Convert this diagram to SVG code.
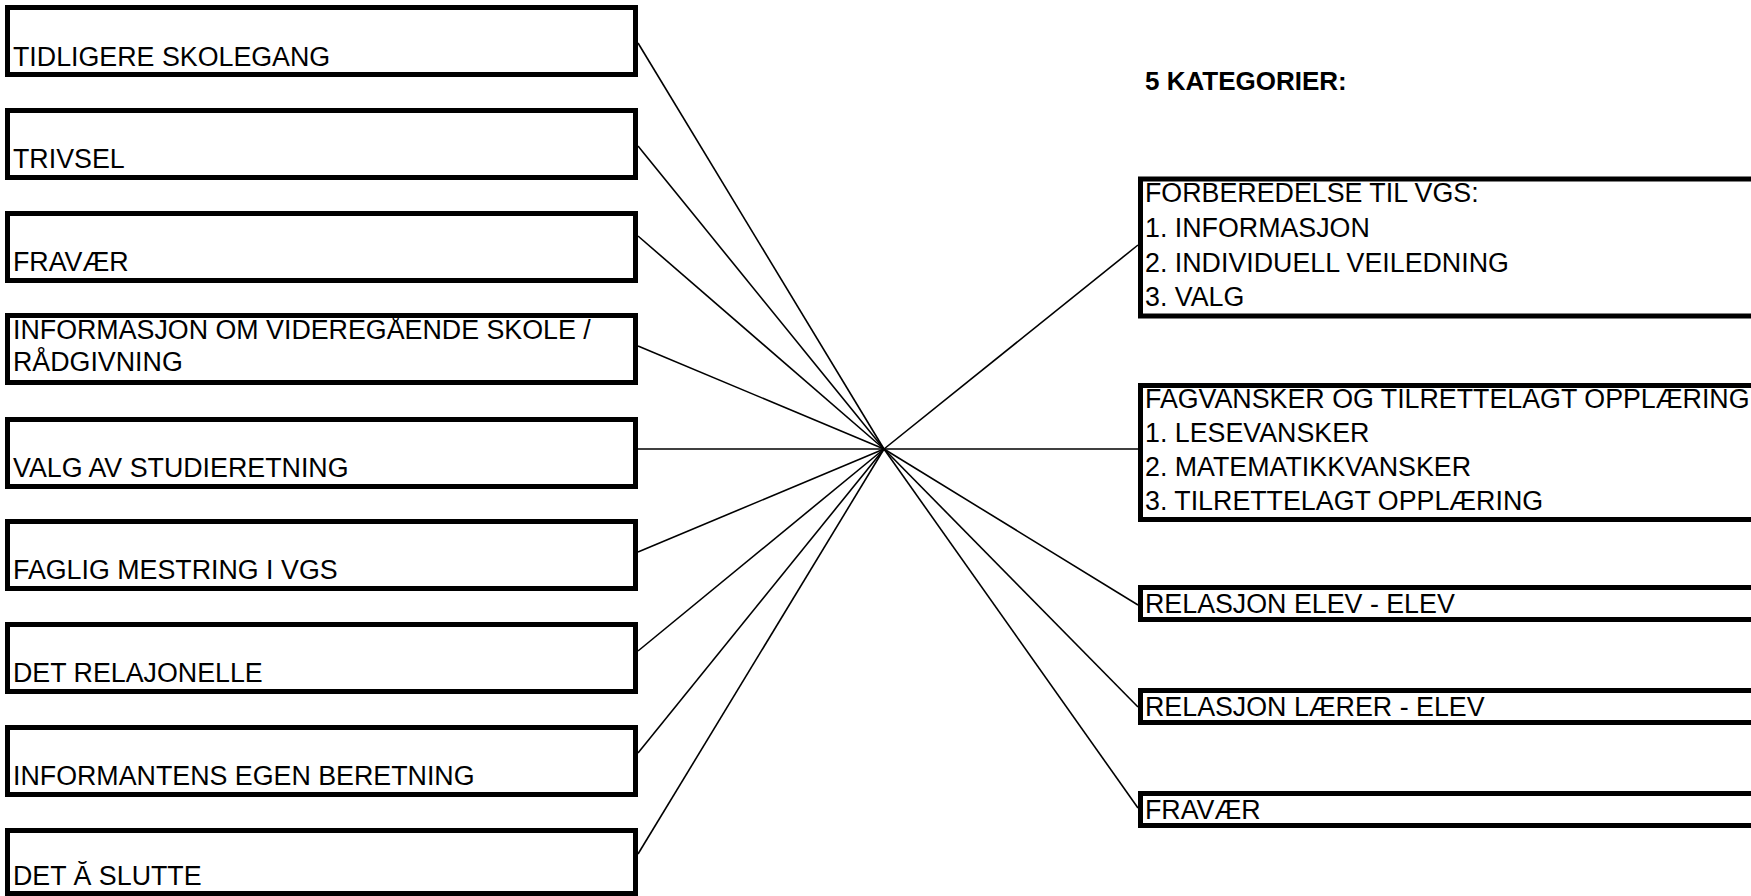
<svg xmlns="http://www.w3.org/2000/svg" width="1751" height="896" viewBox="0 0 1751 896">
<style>
.box{fill:#fff;stroke:#000;stroke-width:5}
.t{font-family:"Liberation Sans",Arial,sans-serif;font-size:26.8px;fill:#000}
.b{font-weight:bold;font-size:26px}
.c line{stroke:#000;stroke-width:1.6}
</style>
<rect x="0" y="0" width="1751" height="896" fill="#fff"/>
<g class="c" id="connectors">
<line x1="638" y1="43" x2="884" y2="449"/>
<line x1="638" y1="146" x2="884" y2="449"/>
<line x1="638" y1="236" x2="884" y2="449"/>
<line x1="638" y1="346" x2="884" y2="449"/>
<line x1="638" y1="449" x2="884" y2="449"/>
<line x1="638" y1="552" x2="884" y2="449"/>
<line x1="638" y1="651" x2="884" y2="449"/>
<line x1="638" y1="753" x2="884" y2="449"/>
<line x1="638" y1="854" x2="884" y2="449"/>
<line x1="884" y1="449" x2="1138" y2="245"/>
<line x1="884" y1="449" x2="1138" y2="449"/>
<line x1="884" y1="449" x2="1138" y2="605"/>
<line x1="884" y1="449" x2="1138" y2="707"/>
<line x1="884" y1="449" x2="1138" y2="808"/>
</g>
<g id="n1"><rect class="box" x="7.5" y="7.5" width="628" height="67"/><text class="t" x="13" y="66">TIDLIGERE SKOLEGANG</text></g>
<g id="n2"><rect class="box" x="7.5" y="110.5" width="628" height="67"/><text class="t" x="13" y="168">TRIVSEL</text></g>
<g id="n3"><rect class="box" x="7.5" y="213.5" width="628" height="67"/><text class="t" x="13" y="271">FRAVÆR</text></g>
<g id="n4"><rect class="box" x="7.5" y="315.5" width="628" height="67"/><text class="t" x="13" y="339">INFORMASJON OM VIDEREGÅENDE SKOLE /</text><text class="t" x="13" y="371">RÅDGIVNING</text></g>
<g id="n5"><rect class="box" x="7.5" y="419.5" width="628" height="67"/><text class="t" x="13" y="477">VALG AV STUDIERETNING</text></g>
<g id="n6"><rect class="box" x="7.5" y="521.5" width="628" height="67"/><text class="t" x="13" y="579">FAGLIG MESTRING I VGS</text></g>
<g id="n7"><rect class="box" x="7.5" y="624.5" width="628" height="67"/><text class="t" x="13" y="682">DET RELAJONELLE</text></g>
<g id="n8"><rect class="box" x="7.5" y="727.5" width="628" height="67"/><text class="t" x="13" y="785">INFORMANTENS EGEN BERETNING</text></g>
<g id="n9"><rect class="box" x="7.5" y="830.5" width="628" height="63"/><text class="t" x="13" y="885">DET Ă SLUTTE</text></g>
<g id="title"><text class="t b" x="1145" y="90">5 KATEGORIER:</text></g>
<g id="r1"><rect class="box" x="1140.5" y="179" width="700" height="137"/>
<text class="t" x="1145" y="202">FORBEREDELSE TIL VGS:</text>
<text class="t" x="1145" y="237">1. INFORMASJON</text>
<text class="t" x="1145" y="272">2. INDIVIDUELL VEILEDNING</text>
<text class="t" x="1145" y="306">3. VALG</text></g>
<g id="r2"><rect class="box" x="1140.5" y="385.5" width="700" height="134"/>
<text class="t" x="1145" y="408">FAGVANSKER OG TILRETTELAGT OPPLÆRING</text>
<text class="t" x="1145" y="442">1. LESEVANSKER</text>
<text class="t" x="1145" y="476">2. MATEMATIKKVANSKER</text>
<text class="t" x="1145" y="510">3. TILRETTELAGT OPPLÆRING</text></g>
<g id="r3"><rect class="box" x="1140.5" y="587.5" width="700" height="32"/><text class="t" x="1145" y="613">RELASJON ELEV - ELEV</text></g>
<g id="r4"><rect class="box" x="1140.5" y="690.5" width="700" height="32"/><text class="t" x="1145" y="716">RELASJON LÆRER - ELEV</text></g>
<g id="r5"><rect class="box" x="1140.5" y="793.5" width="700" height="32"/><text class="t" x="1145" y="819">FRAVÆR</text></g>
</svg>
